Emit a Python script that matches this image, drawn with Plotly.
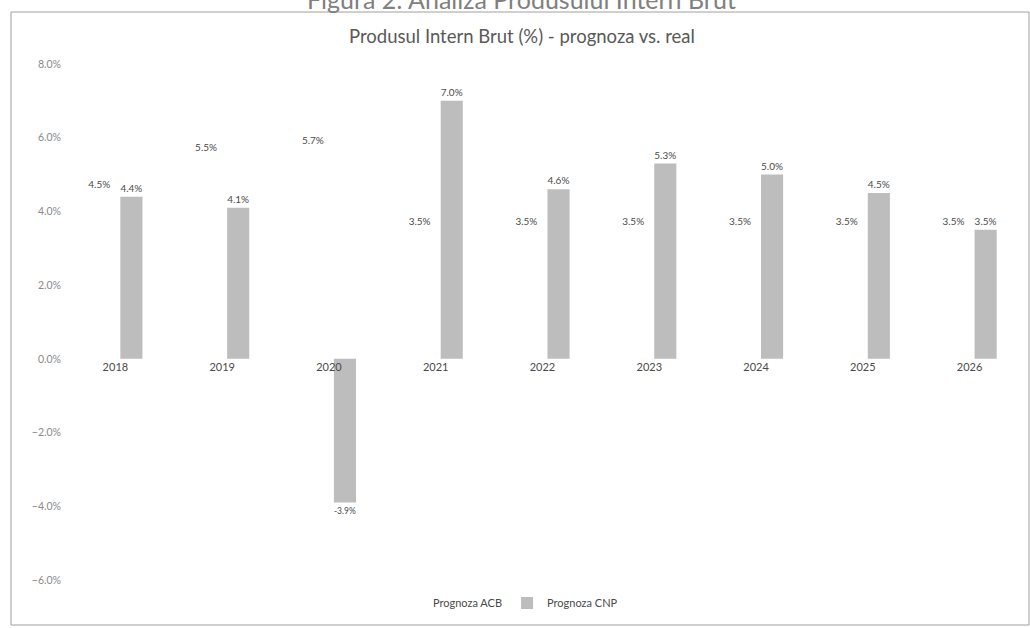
import plotly.graph_objects as go

ani = ["2018", "2019", "2020", "2021", "2022", "2023", "2024", "2025", "2026"]
prognoza_acb = [4.5, 5.5, 5.7, 3.5, 3.5, 3.5, 3.5, 3.5, 3.5]
prognoza_cnp = [4.4, 4.1, -3.9, 7.0, 4.6, 5.3, 5.0, 4.5, 3.5]

y_min, y_max = -6, 8

W, H = 1030, 628
ml, mr, mt, mb = 62, 7, 64, 48
pw, ph = W - ml - mr, H - mt - mb

def px_x(x):
    return (x - ml) / pw

def px_y(y):
    return (H - mb - y) / ph

font = "Lato, 'Open Sans', sans-serif"

fig = go.Figure()
fig.add_trace(go.Bar(
    x=ani, y=prognoza_acb, name="Prognoza ACB",
    marker=dict(color="rgba(255,255,255,0)", line=dict(width=0)),
    texttemplate="%{y:.1f}%", textposition="outside",
    textfont=dict(size=11, color="#4a4a4a", family=font),
    cliponaxis=False,
))
fig.add_trace(go.Bar(
    x=ani, y=prognoza_cnp, name="Prognoza CNP",
    marker=dict(color="#bdbdbd", line=dict(width=0)),
    texttemplate="%{y:.1f}%", textposition="outside",
    textfont=dict(size=11, color="#4a4a4a", family=font),
    cliponaxis=False,
))

fig.update_layout(
    width=W, height=H,
    margin=dict(l=ml, r=mr, t=mt, b=mb),
    paper_bgcolor="white", plot_bgcolor="white",
    barmode="group", bargap=0.4, bargroupgap=0.31,
    font=dict(family=font, color="#595959"),
    showlegend=True,
    legend=dict(orientation="h", x=px_x(508), xanchor="center", y=px_y(603), yanchor="middle",
                font=dict(size=11, color="#4a4a4a"), itemwidth=30),
    annotations=[
        dict(text="Produsul Intern Brut (%) - prognoza vs. real", x=px_x(522), y=px_y(36),
             xref="paper", yref="paper", showarrow=False, xanchor="center", yanchor="middle",
             font=dict(size=18.5, color="#595959", family=font)),
        # figure caption above the chart, partly outside the page as in the scan
        dict(text="Figura 2: Analiza Produsului Intern Brut", x=px_x(521), y=px_y(16),
             xref="paper", yref="paper", showarrow=False, xanchor="center", yanchor="bottom",
             font=dict(size=25, color="#808080", family=font)),
    ],
    shapes=[
        dict(type="rect", xref="paper", yref="paper",
             x0=px_x(11), x1=px_x(1029), y0=px_y(625), y1=px_y(12),
             line=dict(color="#a0a0a0", width=1)),
    ],
)
fig.update_xaxes(
    type="category", anchor="free", position=(0 - y_min) / (y_max - y_min),
    showline=False, showgrid=False, ticks="",
    tickfont=dict(size=11, color="#4a4a4a"),
)
fig.update_yaxes(
    range=[y_min, y_max], dtick=2, tickformat=".1f", ticksuffix="%",
    showgrid=False, zeroline=False, showline=False, ticks="",
    tickfont=dict(size=10.5, color="#8a8a8a"),
)

fig.write_html("out.html", config={"displayModeBar": False},
               post_script="document.body.style.margin = '0';")
